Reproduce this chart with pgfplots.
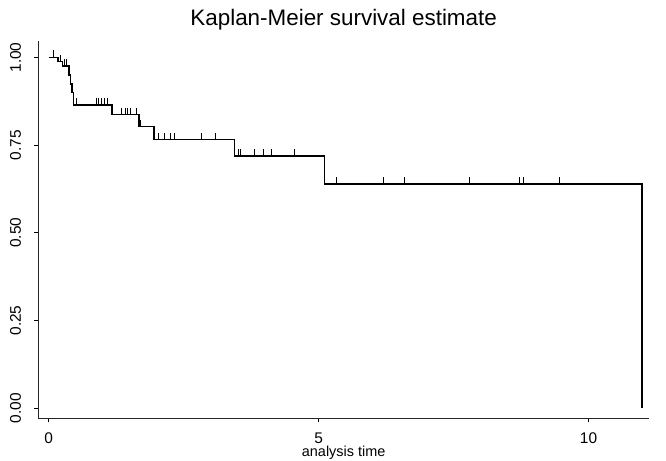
\documentclass[border=0pt]{standalone}
\usepackage{fontspec}
\setmainfont{Liberation Sans}
\usepackage{pgfplots}
\pgfplotsset{compat=1.18}
\pgfdeclareplotmark{censor}{%
  \pgfpathmoveto{\pgfpoint{0pt}{0pt}}%
  \pgfpathlineto{\pgfpoint{0pt}{7bp}}%
  \pgfusepathqstroke}
\begin{document}
\begin{tikzpicture}
\path[use as bounding box] (0,0) rectangle (666bp,461bp);
\begin{axis}[
  at={(38.3bp,42.7bp)}, anchor=south west,
  scale only axis, width=610.7bp, height=377.3bp,
  xmin=-0.19, xmax=11.12, ymin=-0.029, ymax=1.047,
  axis x line*=bottom, axis y line*=left,
  axis line style={-, line width=1.1bp, black!85},
  every inner x axis line/.append style={-},
  every outer x axis line/.append style={-},
  every inner y axis line/.append style={-},
  every outer y axis line/.append style={-},
  xtick={0,5,10}, xticklabels={0,5,10},
  ytick={0,0.25,0.5,0.75,1},
  yticklabels={0.00,0.25,0.50,0.75,1.00},
  /pgf/number format/assume math mode=true,
  tick align=outside, major tick length=4bp,
  tick style={black, line width=0.8bp},
  tick label style={font=\fontsize{15.5}{15.5}\selectfont},
  xticklabel style={anchor=north, inner sep=0pt, yshift=-10bp},
  yticklabel style={rotate=90, anchor=south, inner sep=0pt, yshift=13bp},
  title={Kaplan-Meier survival estimate},
  title style={at={(axis description cs:0.5,1)}, anchor=base, yshift=9.5bp,
    font=\fontsize{22.5}{22.5}\selectfont, inner sep=0pt},
  xlabel={analysis time},
  xlabel style={at={(axis description cs:0.5,0)}, anchor=north, yshift=-27.5bp,
    inner sep=0pt, font=\fontsize{14.5}{14.5}\selectfont},
  clip=false,
]
\addplot[const plot, black, line width=1.6bp, mark=none] coordinates {
 (0,1.0) (0.17,0.988) (0.26,0.975) (0.38,0.950) (0.41,0.925) (0.43,0.900)
 (0.46,0.864) (1.18,0.837) (1.67,0.803) (1.95,0.766) (3.44,0.719)
 (5.11,0.639) (10.99,0.0)
};
\addplot[only marks, mark=censor, black, line width=1bp] coordinates {
 (0.09,1.0) (0.22,0.988) (0.30,0.975) (0.34,0.975)
 (0.52,0.864) (0.88,0.864) (0.93,0.864) (0.98,0.864) (1.03,0.864) (1.10,0.864)
 (1.36,0.837) (1.42,0.837) (1.47,0.837) (1.51,0.837) (1.62,0.837)
 (1.70,0.803)
 (2.03,0.766) (2.14,0.766) (2.25,0.766) (2.34,0.766) (2.83,0.766) (3.10,0.766)
 (3.51,0.719) (3.55,0.719) (3.82,0.719) (3.98,0.719) (4.12,0.719) (4.55,0.719)
 (5.34,0.639) (6.20,0.639) (6.60,0.639) (7.80,0.639) (8.73,0.639) (8.80,0.639) (9.47,0.639)
};
\end{axis}
\end{tikzpicture}
\end{document}
